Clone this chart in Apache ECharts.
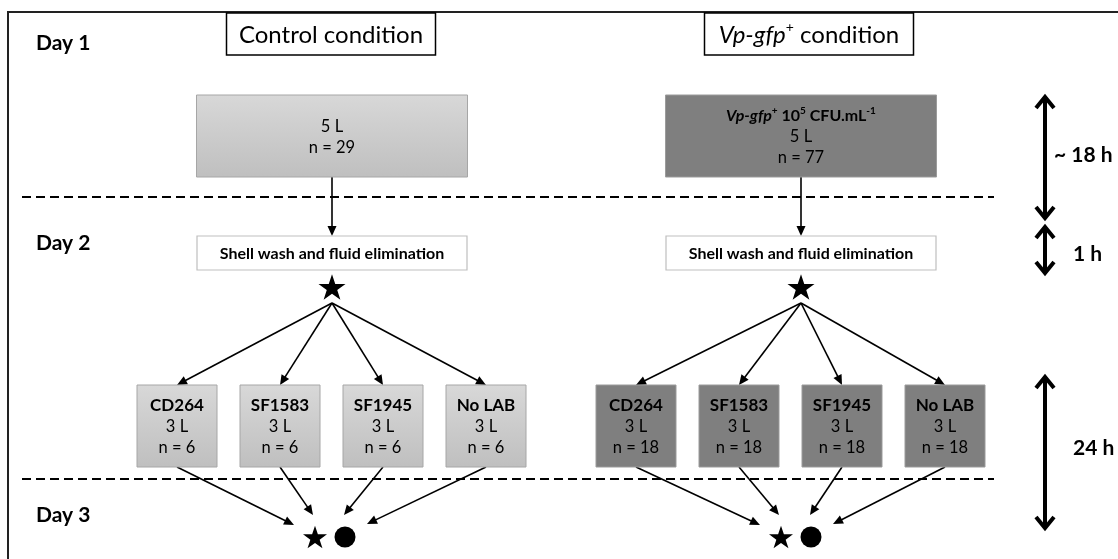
<!DOCTYPE html>
<html>
<head>
<meta charset="utf-8">
<script src="https://cdn.jsdelivr.net/npm/echarts@6/dist/echarts.min.js"></script>
<style>
  html, body { margin: 0; background: #fff; }
  #chart { width: 1118px; height: 559px; }
</style>
</head>
<body>
<div id="chart"></div>
<script>
// ---- data ----
const conditions = ["Control condition", "Vp-gfp+ condition"];
const dayLabels = ["Day 1", "Day 2", "Day 3"];
const inoculumDose = ["", "Vp-gfp+ 10^5 CFU.mL^-1"];
const inoculumVolume = ["5 L", "5 L"];
const inoculumN = [29, 77];
const washStep = "Shell wash and fluid elimination";
const strains = ["CD264", "SF1583", "SF1945", "No LAB"];
const strainVolume = ["3 L", "3 L", "3 L", "3 L"];
const strainN = [[6, 6, 6, 6], [18, 18, 18, 18]];
const durations = ["~ 18 h", "1 h", "24 h"];

// ---- layout, in px of the 1118 x 559 frame ----
const W = 1118, H = 559;
const colX = [332, 801];
const titleX = [331, 809];
const strainX = [[177, 280, 383, 486], [636, 739, 842, 945]];
const sinkX = [330, 796];
const sinkDX = [-36, -17, 14, 37];
const sinkY = [525, 515, 515, 524];
const dayY = [43, 243, 515];
const sepY = [197, 479];
const durX = 1045;
const durSpan = [[95, 220], [225, 275], [375, 530]];
const durLabel = [[1054, 155], [1073, 254], [1073, 448]];

const FONT = 'Lato, "Open Sans", sans-serif';

// text with italic Vp-gfp and superscripts (^x)
function rich(s, base) {
  return s.split(/(Vp-gfp\+|\^-?\d+)/).filter(Boolean).map((tok) => {
    if (tok === "Vp-gfp+") return `{${base}i|Vp-gfp}{${base}s|+}`;
    if (tok[0] === "^") return `{${base}s|${tok.slice(1)}}`;
    return `{${base}|${tok}}`;
  }).join("");
}

const RICH = {
  t: { fontFamily: FONT, fontSize: 24, lineHeight: 30 },
  ti: { fontFamily: FONT, fontSize: 24, fontStyle: "italic", lineHeight: 30 },
  ts: { fontFamily: FONT, fontSize: 14, lineHeight: 16, verticalAlign: "top" },
  r: { fontFamily: FONT, fontSize: 16.5, lineHeight: 21 },
  b: { fontFamily: FONT, fontSize: 17, fontWeight: "bold", lineHeight: 21 },
  d: { fontFamily: FONT, fontSize: 16, fontWeight: "bold", lineHeight: 21 },
  di: { fontFamily: FONT, fontSize: 16, fontWeight: "bold", fontStyle: "italic", lineHeight: 21 },
  ds: { fontFamily: FONT, fontSize: 10, fontWeight: "bold", lineHeight: 13, verticalAlign: "top" },
  w: { fontFamily: FONT, fontSize: 16, fontWeight: "bold", lineHeight: 22 },
};

const LIGHT = {
  type: "linear", x: 0, y: 0, x2: 0, y2: 1,
  colorStops: [{ offset: 0, color: "#d8d8d8" }, { offset: 1, color: "#bfbfbf" }],
};
const STYLE = {
  title: { fill: "#fff", stroke: "#000", lineWidth: 1.5 },
  control: { fill: LIGHT, stroke: "#a6a6a6", lineWidth: 1 },
  vp: { fill: "#7f7f7f", stroke: "#9b9b9b", lineWidth: 1 },
  wash: { fill: "#fff", stroke: "#bfbfbf", lineWidth: 1.2 },
};

// ---- boxes ----
const boxes = [];
conditions.forEach((c, i) => {
  const fillKind = i === 0 ? "control" : "vp";
  boxes.push({ cx: titleX[i], cy: 34, w: 209, h: 42, kind: "title", text: rich(c, "t") });
  const lines = [];
  if (inoculumDose[i]) lines.push(rich(inoculumDose[i], "d"));
  lines.push(`{r|${inoculumVolume[i]}}`, `{r|n = ${inoculumN[i]}}`);
  boxes.push({ cx: colX[i], cy: 136, w: 271, h: 82, kind: fillKind, text: lines.join("\n") });
  boxes.push({ cx: colX[i], cy: 253, w: 270, h: 34, kind: "wash", text: `{w|${washStep}}` });
  strains.forEach((s, k) => {
    boxes.push({
      cx: strainX[i][k], cy: 426, w: 80, h: 82, kind: fillKind,
      text: `{b|${s}}\n{r|${strainVolume[k]}}\n{r|n = ${strainN[i][k]}}`,
    });
  });
});

// ---- arrows and markers ----
const arrows = [];
const stars = [];
const circles = [];
conditions.forEach((c, i) => {
  arrows.push([colX[i], 177, colX[i], 236]);
  stars.push({ value: [colX[i], 287], symbolSize: 27 });
  strains.forEach((s, k) => {
    arrows.push([colX[i], 303, strainX[i][k], 385]);
    arrows.push([strainX[i][k], 467, sinkX[i] + sinkDX[k], sinkY[k]]);
  });
  stars.push({ value: [sinkX[i] - 15, 537], symbolSize: 24 });
  circles.push({ value: [sinkX[i] + 15, 537], symbolSize: 21 });
});

const STAR = "path://M50,0 L61.8,35.3 L99,35.3 L69,57.3 L80.4,92.8 L50,70.8 L19.6,92.8 L31,57.3 L1,35.3 L38.2,35.3 Z";

function renderBox(params, api) {
  const b = boxes[params.dataIndex];
  const p0 = api.coord([b.cx - b.w / 2, b.cy - b.h / 2]);
  const p1 = api.coord([b.cx + b.w / 2, b.cy + b.h / 2]);
  return {
    type: "group",
    children: [
      {
        type: "rect",
        shape: { x: p0[0], y: p0[1], width: p1[0] - p0[0], height: p1[1] - p0[1] },
        style: STYLE[b.kind],
      },
      {
        type: "text",
        x: (p0[0] + p1[0]) / 2,
        y: (p0[1] + p1[1]) / 2 + 1,
        style: { text: b.text, rich: RICH, align: "center", verticalAlign: "middle", fill: "#000" },
      },
    ],
  };
}

function renderArrow(params, api) {
  const a = arrows[params.dataIndex];
  const p0 = api.coord([a[0], a[1]]);
  const p1 = api.coord([a[2], a[3]]);
  const dx = p1[0] - p0[0], dy = p1[1] - p0[1];
  const len = Math.hypot(dx, dy);
  const ux = dx / len, uy = dy / len;
  const hl = 10, hw = 4.5;
  const bx = p1[0] - ux * hl, by = p1[1] - uy * hl;
  return {
    type: "group",
    children: [
      { type: "line", shape: { x1: p0[0], y1: p0[1], x2: bx + ux, y2: by + uy }, style: { stroke: "#000", lineWidth: 1.6 } },
      {
        type: "polygon",
        shape: { points: [[p1[0], p1[1]], [bx - uy * hw, by + ux * hw], [bx + uy * hw, by - ux * hw]] },
        style: { fill: "#000" },
      },
    ],
  };
}

function renderDuration(params, api) {
  const i = params.dataIndex;
  const top = api.coord([durX, durSpan[i][0]]);
  const bot = api.coord([durX, durSpan[i][1]]);
  const lab = api.coord(durLabel[i]);
  const x = top[0], hw = 9, hl = 13;
  const st = { stroke: "#000", lineWidth: 4, fill: null, lineJoin: "miter" };
  return {
    type: "group",
    children: [
      { type: "line", shape: { x1: x, y1: top[1] + 2, x2: x, y2: bot[1] - 2 }, style: st },
      { type: "polyline", shape: { points: [[x - hw, top[1] + hl], [x, top[1] + 2], [x + hw, top[1] + hl]] }, style: st },
      { type: "polyline", shape: { points: [[x - hw, bot[1] - hl], [x, bot[1] - 2], [x + hw, bot[1] - hl]] }, style: st },
      {
        type: "text", x: lab[0], y: lab[1],
        style: { text: durations[i], fontFamily: FONT, fontSize: 21, fontWeight: "bold", fill: "#000", align: "left", verticalAlign: "middle" },
      },
    ],
  };
}

function renderGuides(params, api) {
  const tl = api.coord([8, 12]);
  const tr = api.coord([W, 12]);
  const bl = api.coord([8, H]);
  const kids = [
    { type: "polyline", shape: { points: [[tr[0], tr[1]], [tl[0], tl[1]], [bl[0], bl[1]]] }, style: { stroke: "#222", lineWidth: 2, fill: null } },
  ];
  sepY.forEach((y) => {
    const a = api.coord([22, y]);
    const b = api.coord([994, y]);
    kids.push({ type: "line", shape: { x1: a[0], y1: a[1], x2: b[0], y2: b[1] }, style: { stroke: "#000", lineWidth: 2, lineDash: [9, 5] } });
  });
  dayLabels.forEach((d, i) => {
    const p = api.coord([36, dayY[i]]);
    kids.push({
      type: "text", x: p[0], y: p[1],
      style: { text: d, fontFamily: FONT, fontSize: 21, fontWeight: "bold", fill: "#000", align: "left", verticalAlign: "middle" },
    });
  });
  return { type: "group", children: kids };
}

const chart = echarts.init(document.getElementById("chart"), null, { renderer: "canvas" });
chart.setOption({
  animation: false,
  textStyle: { fontFamily: FONT },
  grid: { left: 0, right: 0, top: 0, bottom: 0 },
  xAxis: { type: "value", min: 0, max: W, show: false },
  yAxis: { type: "value", min: 0, max: H, inverse: true, show: false },
  series: [
    { type: "custom", name: "guides", silent: true, data: [[0, 0]], renderItem: renderGuides },
    { type: "custom", name: "arrows", silent: true, data: arrows, encode: { x: [0, 2], y: [1, 3] }, renderItem: renderArrow },
    { type: "custom", name: "boxes", silent: true, data: boxes.map((b) => [b.cx, b.cy]), renderItem: renderBox },
    { type: "custom", name: "durations", silent: true, data: durSpan.map((s) => [durX, s[0], s[1]]), encode: { x: 0, y: [1, 2] }, renderItem: renderDuration },
    { type: "scatter", name: "stars", silent: true, symbol: STAR, symbolKeepAspect: true, itemStyle: { color: "#000", opacity: 1 }, data: stars },
    { type: "scatter", name: "circles", silent: true, symbol: "circle", itemStyle: { color: "#000", opacity: 1 }, data: circles },
  ],
});
</script>
</body>
</html>
